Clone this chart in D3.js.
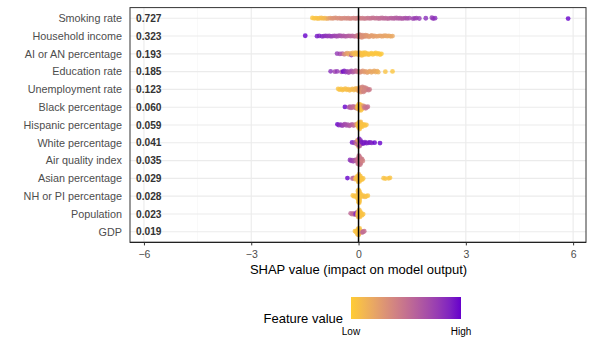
<!DOCTYPE html>
<html><head><meta charset="utf-8">
<script src="https://cdn.jsdelivr.net/npm/d3@7"></script>
<style>body{margin:0;background:#fff}svg{display:block;font-family:"Liberation Sans",Arial,sans-serif}</style>
</head><body><svg id="c" width="596" height="351"></svg>
<script>
const features = ["Smoking rate","Household income","AI or AN percentage","Education rate","Unemployment rate","Black percentage","Hispanic percentage","White percentage","Air quality index","Asian percentage","NH or PI percentage","Population","GDP"];
const meanAbs = ["0.727","0.323","0.193","0.185","0.123","0.060","0.059","0.041","0.035","0.029","0.028","0.023","0.019"];
const xTicks = [-6,-3,0,3,6];
const xMinor = [-4.5,-1.5,1.5,4.5];
// [SHAP value, normalised feature value]
const smoking = [[-1.29,.03],[-1.24,.03],[-1.19,.05],[-1.14,.06],[-1.09,.06],[-1.04,.08],[-0.99,.1],[-0.94,.1],[-0.89,.15],[-0.84,.22],[-0.79,.26],[-0.74,.3],[-0.69,.32],[-0.64,.32],[-0.59,.34],[-0.54,.34],[-0.49,.35],[-0.44,.36],[-0.39,.37],[-0.34,.37],[-0.29,.38],[-0.24,.38],[-0.19,.39],[-0.14,.4],[-0.09,.4],[-0.04,.41],[0.01,.42],[0.06,.43],[0.11,.44],[0.16,.45],[0.21,.46],[0.26,.47],[0.31,.48],[0.36,.49],[0.41,.5],[0.46,.5],[0.51,.51],[0.56,.52],[0.61,.53],[0.66,.54],[0.71,.55],[0.76,.56],[0.81,.57],[0.86,.58],[0.91,.59],[0.96,.6],[1.01,.61],[1.06,.62],[1.11,.63],[1.16,.64],[1.21,.65],[1.26,.66],[1.31,.68],[1.36,.7],[1.42,.72],[1.52,.75],[1.57,.78],[1.62,.76],[1.70,.8],[1.88,.85],[2.05,.8],[2.09,.82],[2.14,.85],[5.86,1.0]];
const income = [[-1.49,1.0],[-1.16,.95],[-1.10,.9],[-1.02,.92],[-0.97,.85],[-0.92,.85],[-0.87,.82],[-0.82,.8],[-0.77,.8],[-0.72,.78],[-0.67,.76],[-0.62,.74],[-0.57,.72],[-0.52,.7],[-0.47,.68],[-0.42,.66],[-0.37,.65],[-0.32,.63],[-0.27,.61],[-0.22,.59],[-0.17,.57],[-0.12,.55],[-0.07,.5],[-0.03,.45],[0.0,.42],[0.02,.38],[0.03,.38],[0.05,.33],[0.06,.35],[0.09,.34],[0.1,.3],[0.12,.33],[0.15,.33],[0.18,.31],[0.2,.3],[0.21,.3],[0.25,.28],[0.29,.28],[0.33,.27],[0.37,.26],[0.41,.25],[0.45,.25],[0.5,.24],[0.55,.24],[0.6,.23],[0.65,.23],[0.7,.22],[0.75,.22],[0.8,.21],[0.85,.21],[0.9,.2],[0.95,.2]];
const aian = [[-0.6,.8],[-0.52,.75],[-0.45,.6],[-0.4,.4],[-0.36,.3],[-0.32,.25],[-0.28,.2],[-0.24,.2],[-0.2,.9],[-0.2,.15],[-0.16,.15],[-0.12,.12],[-0.1,.1],[-0.08,.1],[-0.05,.1],[-0.02,.1],[0.0,.1],[0.0,.08],[0.03,.08],[0.05,.1],[0.06,.08],[0.09,.08],[0.1,.06],[0.12,.05],[0.15,.05],[0.15,.05],[0.18,.05],[0.21,.05],[0.24,.05],[0.28,.05],[0.32,.05],[0.36,.04],[0.4,.04],[0.44,.04],[0.48,.03],[0.52,.03],[0.56,.03],[0.6,.03],[0.64,.02]];
const education = [[-0.78,.85],[-0.66,.75],[-0.6,.8],[-0.48,.7],[-0.43,1.0],[-0.4,.9],[-0.36,.85],[-0.32,.8],[-0.28,.75],[-0.24,.7],[-0.2,.7],[-0.16,.65],[-0.12,.6],[-0.08,.55],[-0.04,.5],[0.0,.45],[0.04,.35],[0.08,.3],[0.12,.3],[0.16,.28],[0.2,.25],[0.24,.25],[0.28,.22],[0.32,.22],[0.36,.2],[0.4,.2],[0.44,.2],[0.48,.18],[0.52,.18],[0.55,.15],[0.75,.05],[0.95,.03]];
const unemployment = [[-0.57,.05],[-0.53,.05],[-0.49,.05],[-0.45,.06],[-0.41,.06],[-0.37,.07],[-0.33,.07],[-0.29,.08],[-0.25,.08],[-0.21,.1],[-0.17,.1],[-0.13,.1],[-0.1,.12],[-0.07,.12],[-0.04,.15],[-0.02,.15],[0.0,.2],[0.02,.25],[0.03,.2],[0.04,.3],[0.05,.3],[0.06,.3],[0.07,.25],[0.08,.35],[0.09,.3],[0.1,.35],[0.11,.4],[0.12,.35],[0.13,.3],[0.14,.4],[0.15,.35],[0.16,.4],[0.17,.4],[0.18,.35],[0.2,.4],[0.22,.4],[0.25,.4],[0.28,.45],[0.31,.45]];
const black = [[-0.38,1.0],[-0.27,.7],[-0.24,.65],[-0.21,.6],[-0.18,.55],[-0.15,.55],[-0.12,.5],[-0.09,.5],[-0.06,.45],[-0.04,.1],[-0.02,.1],[-0.01,.08],[0.0,.05],[0.01,.05],[0.02,.1],[0.03,.05],[0.03,.1],[0.04,.1],[0.05,.05],[0.05,.15],[0.06,.1],[0.07,.05],[0.08,.08],[0.09,.1],[0.1,.05],[0.12,.1],[0.14,.3],[0.16,.4],[0.18,.45],[0.2,.45],[0.23,.5],[0.26,.5]];
const hispanic = [[-0.59,1.0],[-0.55,.9],[-0.5,.85],[-0.46,.8],[-0.42,.75],[-0.38,.72],[-0.34,.7],[-0.3,.68],[-0.26,.65],[-0.22,.62],[-0.18,.6],[-0.14,.55],[-0.1,.5],[-0.06,.3],[-0.03,.1],[-0.01,.05],[0.0,.05],[0.0,.08],[0.01,.05],[0.02,.05],[0.02,.08],[0.03,.05],[0.04,.05],[0.04,.1],[0.05,.05],[0.06,.05],[0.06,.08],[0.07,.05],[0.08,.05],[0.1,.05],[0.12,.05],[0.15,.05],[0.18,.05],[0.22,.05]];
const white = [[-0.18,.95],[-0.12,.8],[-0.08,.6],[-0.05,.5],[-0.04,.7],[-0.03,.3],[-0.02,.1],[-0.01,.2],[0.0,.2],[0.0,.7],[0.01,.1],[0.01,.8],[0.02,.4],[0.02,.9],[0.03,.1],[0.03,.3],[0.04,.6],[0.05,.2],[0.06,.9],[0.07,.5],[0.09,.95],[0.12,.9],[0.15,.95],[0.18,.9],[0.22,.95],[0.27,.9],[0.32,.95],[0.37,.9],[0.45,1.0],[0.6,1.0]];
const airQuality = [[-0.24,.85],[-0.21,.8],[-0.18,.75],[-0.15,.75],[-0.12,.7],[-0.09,.65],[-0.06,.55],[-0.03,.5],[-0.02,.5],[-0.01,.5],[-0.01,.45],[0.0,.48],[0.0,.45],[0.01,.5],[0.01,.42],[0.02,.48],[0.02,.45],[0.03,.5],[0.03,.47],[0.04,.45],[0.04,.5],[0.05,.45],[0.05,.48],[0.06,.4],[0.07,.45],[0.08,.4],[0.1,.45],[0.12,.4]];
const asian = [[-0.31,1.0],[-0.17,.6],[-0.14,.55],[-0.1,.2],[-0.07,.05],[-0.05,.05],[-0.03,.05],[-0.02,.05],[-0.01,.05],[-0.01,.1],[0.0,.05],[0.0,.1],[0.01,.05],[0.01,.1],[0.02,.05],[0.02,.08],[0.03,.05],[0.04,.05],[0.05,.05],[0.06,.05],[0.08,.05],[0.1,.05],[0.13,.05],[0.7,.05],[0.75,.05],[0.84,.05],[0.88,.05]];
const nhpi = [[-0.16,.05],[-0.12,.05],[-0.08,.05],[-0.05,.05],[-0.03,.05],[-0.02,.05],[-0.01,.05],[-0.01,.08],[0.0,.05],[0.0,.05],[0.0,.08],[0.0,.05],[0.0,.1],[0.0,.05],[0.01,.05],[0.01,.08],[0.01,.05],[0.01,.05],[0.02,.05],[0.02,.1],[0.02,.05],[0.02,.05],[0.03,.05],[0.03,.08],[0.03,.05],[0.05,.05],[0.07,.05],[0.1,.05],[0.14,.05],[0.18,.1],[0.22,.05],[0.26,.05]];
const population = [[-0.22,.55],[-0.18,.5],[-0.14,.55],[-0.1,.6],[-0.08,.9],[-0.05,.85],[-0.03,.1],[-0.02,.05],[-0.01,.05],[0.0,.05],[0.0,.1],[0.0,.2],[0.01,.05],[0.02,.1],[0.02,.05],[0.03,.05],[0.04,.05],[0.04,.1],[0.05,.05],[0.06,.1],[0.08,.05],[0.1,.05],[0.13,.05]];
const gdp = [[-0.1,.05],[-0.07,.05],[-0.05,.05],[-0.03,.05],[-0.02,.05],[-0.01,.05],[0.0,.05],[0.0,.05],[0.0,.1],[0.0,.05],[0.0,.05],[0.01,.05],[0.02,.05],[0.03,.05],[0.05,.05],[0.07,.1],[0.1,.5],[0.13,.55],[0.16,.5]];
const seriesList = [smoking,income,aian,education,unemployment,black,hispanic,white,airQuality,asian,nhpi,population,gdp];

const svg = d3.select("#c");
const L=130,R=586,T=7.6,B=242.4;
const x = d3.scaleLinear().domain([-6.39,6.36]).range([L,R]);
const y = d3.scalePoint().domain(features).range([T,B]).padding(0.6);
const color = d3.scaleLinear().domain([0,1]).range(["#FFCC33","#6600CC"]).interpolate(d3.interpolateLab);

// grid
const g = svg.append("g");
g.selectAll(".mn").data(xMinor).join("line").attr("x1",d=>x(d)).attr("x2",d=>x(d)).attr("y1",T).attr("y2",B).attr("stroke","#f3f3f3").attr("stroke-width",0.6);
g.selectAll(".mj").data(xTicks).join("line").attr("x1",d=>x(d)).attr("x2",d=>x(d)).attr("y1",T).attr("y2",B).attr("stroke","#ebebeb").attr("stroke-width",1.1);
g.selectAll(".hy").data(features).join("line").attr("x1",L).attr("x2",R).attr("y1",d=>y(d)).attr("y2",d=>y(d)).attr("stroke","#ebebeb").attr("stroke-width",1.1);

// sina-like layout
const h = 0.045, step = y.step();
const counts = seriesList.map(s => s.map(p => s.filter(q => Math.abs(q[0]-p[0])<=h).length));
const M = d3.max(counts.flat());
const pts = [];
seriesList.forEach((s,fi)=>{
  s.forEach((p,i)=>{
    const hw = 0.4*step*(counts[fi][i]/M);
    const u = ((i*0.6180339887)%1)*2-1;
    pts.push({f:features[fi], v:p[0], c:p[1], dy:hw*u});
  });
});
svg.append("g").selectAll("circle").data(pts).join("circle")
  .attr("cx",d=>x(d.v)).attr("cy",d=>y(d.f)+d.dy).attr("r",2.4)
  .attr("fill",d=>color(d.c)).attr("fill-opacity",0.8);

// zero line
svg.append("line").attr("x1",x(0)).attr("x2",x(0)).attr("y1",T).attr("y2",B).attr("stroke","#000").attr("stroke-width",1.5);

// panel border
svg.append("rect").attr("x",L).attr("y",T).attr("width",R-L).attr("height",B-T).attr("fill","none").attr("stroke","#333").attr("stroke-width",1);
svg.append("line").attr("x1",L).attr("x2",R).attr("y1",B).attr("y2",B).attr("stroke","#222").attr("stroke-width",1.4);

// x axis
const xa = svg.append("g").attr("transform",`translate(0,${B})`).call(d3.axisBottom(x).tickValues(xTicks).tickSize(3).tickFormat(d3.format("d")));
xa.select(".domain").remove();
xa.selectAll("line").attr("stroke","#333");
xa.selectAll("text").attr("fill","#4d4d4d").attr("font-size","10.5px").attr("dy","0.95em").attr("font-family","Liberation Sans, Arial, sans-serif");
svg.append("text").attr("x",x(0)).attr("y",273.5).attr("text-anchor","middle").attr("font-size","13px").attr("fill","#000").text("SHAP value (impact on model output)");

// y labels
svg.append("g").selectAll("text").data(features).join("text").attr("x",122).attr("y",d=>y(d)).attr("dy","0.35em").attr("text-anchor","end").attr("font-size","10.8px").attr("fill","#4d4d4d").text(d=>d);
svg.append("g").selectAll("text").data(features).join("text").attr("x",136).attr("y",d=>y(d)).attr("dy","0.36em").attr("font-size","10.2px").attr("font-weight","bold").attr("fill","#333").text((d,i)=>meanAbs[i]);

// legend
const defs = svg.append("defs");
const grad = defs.append("linearGradient").attr("id","lg");
d3.range(0,1.0001,0.1).forEach(t=>grad.append("stop").attr("offset",t).attr("stop-color",color(t)));
svg.append("rect").attr("x",351).attr("y",297).attr("width",110).attr("height",22).attr("fill","url(#lg)");
svg.append("text").attr("x",343).attr("y",323).attr("text-anchor","end").attr("font-size","13px").attr("fill","#000").text("Feature value");
svg.append("text").attr("x",351).attr("y",335).attr("text-anchor","middle").attr("font-size","10px").attr("fill","#000").text("Low");
svg.append("text").attr("x",461).attr("y",335).attr("text-anchor","middle").attr("font-size","10px").attr("fill","#000").text("High");
</script></body></html>
